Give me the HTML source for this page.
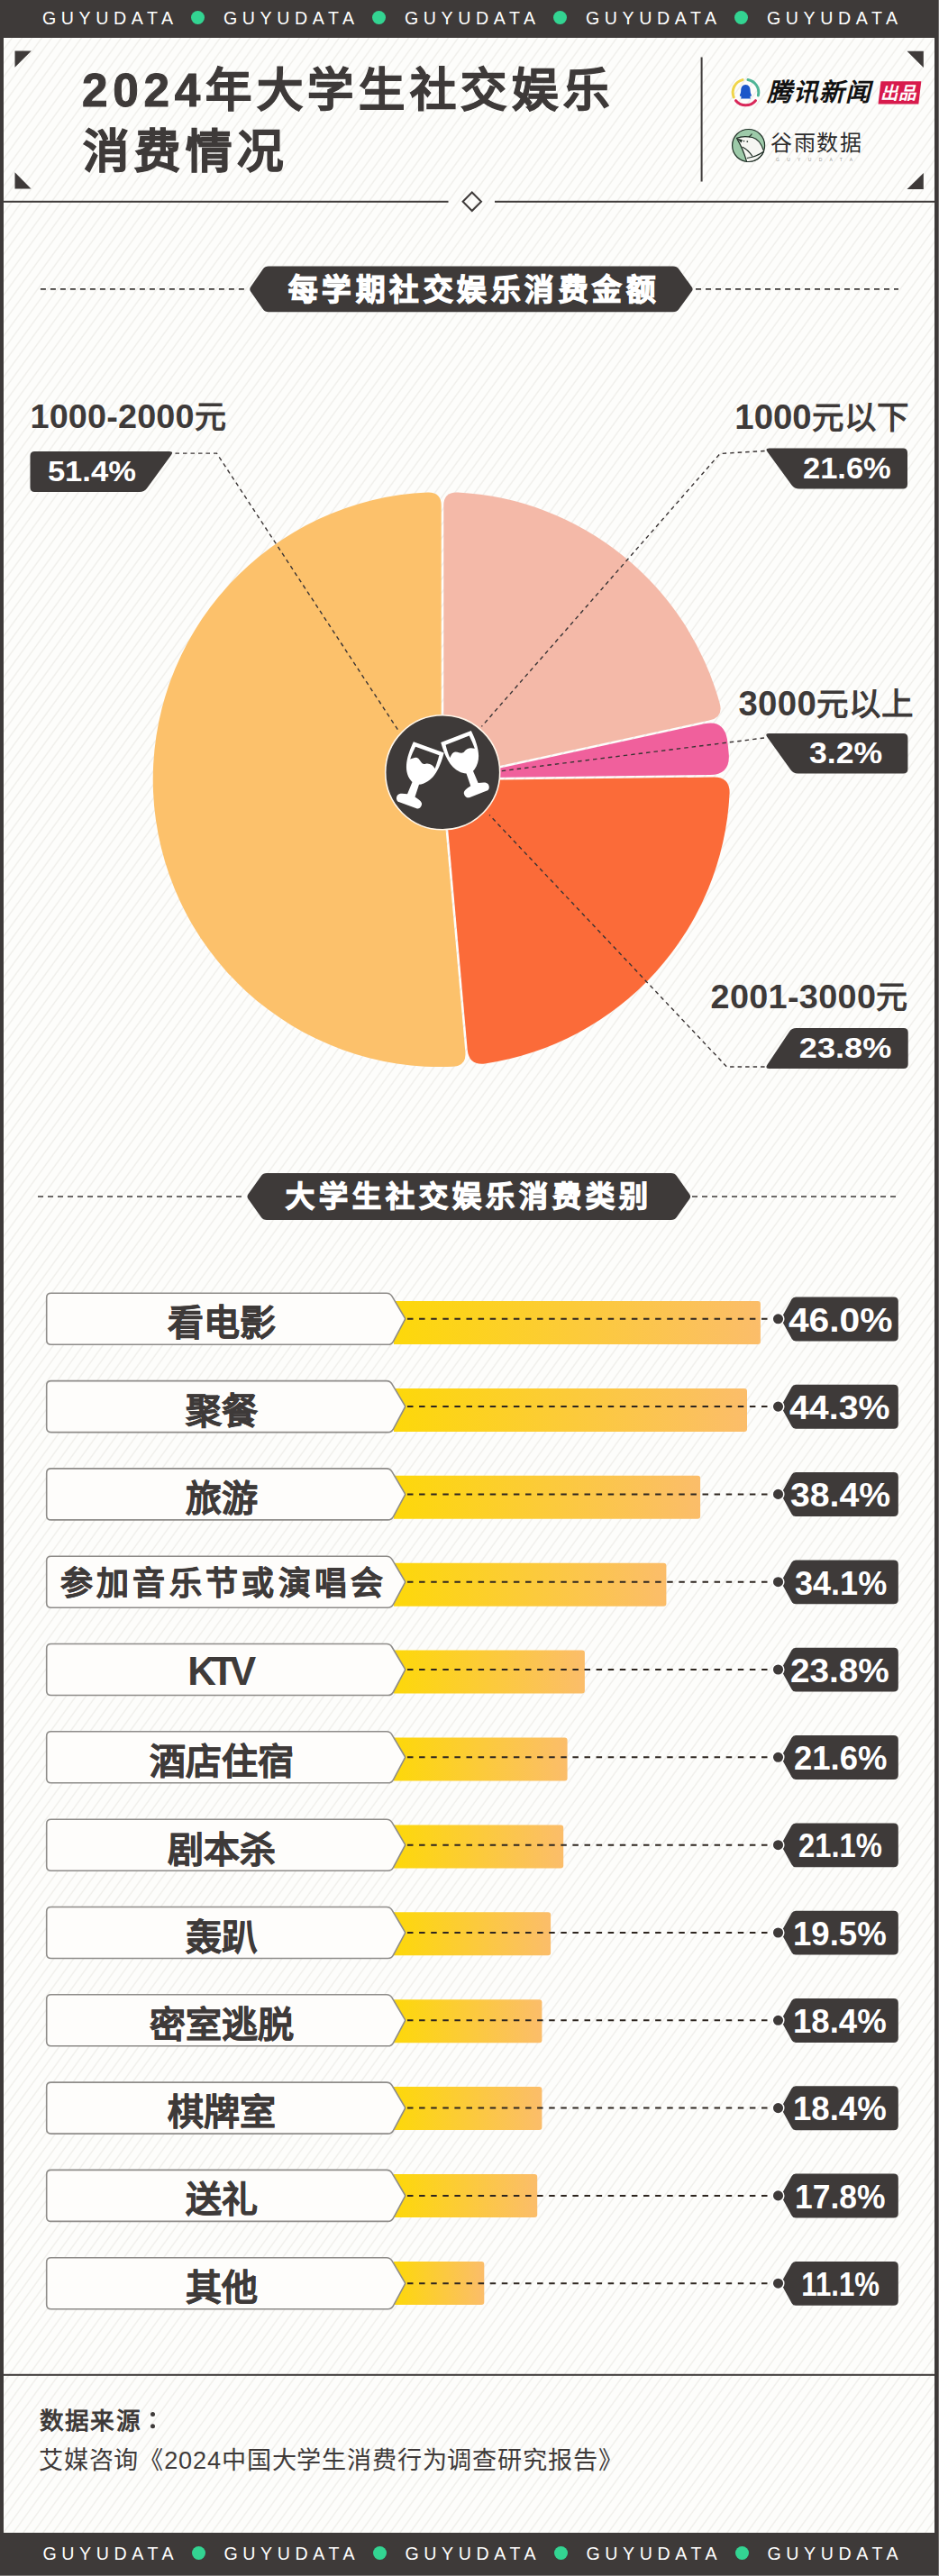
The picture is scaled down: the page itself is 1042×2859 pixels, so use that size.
<!DOCTYPE html>
<html lang="zh-CN"><head><meta charset="utf-8"><style>
html,body{margin:0;padding:0}
body{width:1042px;height:2859px;position:relative;overflow:hidden;background:#3e3a39;font-family:'Liberation Sans',sans-serif}
.panel{position:absolute;left:4px;top:42px;width:1033px;height:2769px;background-color:#fdfdfb;
background-image:repeating-linear-gradient(126deg,#fdfdfb 0px,#fdfdfb 6.3px,#f0efeb 7.5px,#f0efeb 7.8px,#fdfdfb 8.9px)}
.rb{position:absolute;left:1041px;top:0;width:1px;height:2859px;background:#6d6a69}
.ov{position:absolute;left:0;top:0}
.t{position:absolute;white-space:nowrap}
.g{position:absolute;font-size:19.6px;line-height:20px;letter-spacing:5.6px;color:#fff;white-space:nowrap;font-family:'Liberation Sans',sans-serif}
.dot{position:absolute;width:15px;height:15px;border-radius:50%;background:#33d492}
</style></head><body>
<div class="panel"></div>
<div class="rb"></div><div style="position:absolute;left:0;top:2857.5px;width:1042px;height:1.5px;background:#7d7978"></div>
<svg class="ov" width="1042" height="2859" viewBox="0 0 1042 2859"><polygon points="16.5,56.6 34.8,56.6 16.5,74.8" fill="#3e3a39"/>
<polygon points="1006.5,56.7 1024.8,56.7 1024.8,75" fill="#3e3a39"/>
<polygon points="16.5,191.2 34.5,209.4 16.5,209.4" fill="#3e3a39"/>
<polygon points="1024.8,192 1024.8,210 1006.5,210" fill="#3e3a39"/>
<rect x="777.6" y="63.5" width="2" height="138" fill="#3e3a39"/>
<rect x="4" y="222.8" width="493.5" height="2" fill="#3e3a39"/>
<rect x="549" y="222.8" width="488" height="2" fill="#3e3a39"/>
<polygon points="523.8,213.5 534,223.8 523.8,234 513.6,223.8" fill="none" stroke="#3e3a39" stroke-width="2"/>
<path d="M278.1,323.4 Q276.4,320.9 278.1,318.4 L291.7,298.8 Q294.0,295.5 298.0,295.5 L747.0,295.5 Q751.0,295.5 753.4,298.7 L767.7,318.5 Q769.5,320.9 767.7,323.3 L753.4,343.1 Q751.0,346.3 747.0,346.3 L298.0,346.3 Q294.0,346.3 291.7,343.0 Z" fill="#3e3a39"/>
<line x1="44.9" y1="320.9" x2="274" y2="320.9" stroke="#3e3a39" stroke-width="1.6" stroke-dasharray="6 5"/>
<line x1="772" y1="320.9" x2="997" y2="320.9" stroke="#3e3a39" stroke-width="1.6" stroke-dasharray="6 5"/>
<path d="M275.3,1330.4 Q273.6,1328.0 275.3,1325.6 L289.7,1305.3 Q292.0,1302.0 296.0,1302.0 L744.7,1302.0 Q748.7,1302.0 751.0,1305.3 L765.3,1325.5 Q767.0,1328.0 765.3,1330.5 L751.0,1350.7 Q748.7,1354.0 744.7,1354.0 L296.0,1354.0 Q292.0,1354.0 289.7,1350.7 Z" fill="#3e3a39"/>
<line x1="42" y1="1328.0" x2="272" y2="1328.0" stroke="#3e3a39" stroke-width="1.6" stroke-dasharray="6 5"/>
<line x1="768" y1="1328.0" x2="995" y2="1328.0" stroke="#3e3a39" stroke-width="1.6" stroke-dasharray="6 5"/>
<path d="M492.3,835.0 L492.3,561.0 Q492.3,546.0 507.3,546.4 A319,319 0 0 1 798.9,781.5 Q802.5,796.1 787.8,799.3 L520.0,857.4 Z" fill="#f4b9a8"/>
<path d="M520.6,859.9 L781.5,803.3 Q803.0,798.6 806.9,820.3 A319,319 0 0 1 808.8,837.7 Q810.0,859.7 788.0,860.0 L521.0,863.3 Z" fill="#f0609c"/>
<path d="M521.0,865.9 L792.0,862.5 Q810.0,862.3 809.6,880.3 A319,319 0 0 1 538.2,1180.5 Q520.3,1182.7 518.7,1164.7 L494.9,894.8 Z" fill="#fb6b39"/>
<path d="M492.3,895.0 L516.4,1167.9 Q517.7,1182.9 502.8,1183.8 A319,319 0 0 1 474.7,546.4 Q489.7,546.0 489.7,561.0 L489.7,835.0 Z" fill="#fcc16b"/>
<polyline points="194.5,503.1 240.5,503.1 441.5,810" fill="none" stroke="#3a3434" stroke-width="1.4" stroke-dasharray="4.5 4"/>
<polyline points="848.6,500.5 799,503.5 534.4,806.4" fill="none" stroke="#3a3434" stroke-width="1.4" stroke-dasharray="4.5 4"/>
<polyline points="848,819 555.7,855.8" fill="none" stroke="#3a3434" stroke-width="1.4" stroke-dasharray="4.5 4"/>
<polyline points="848.6,1184 806.5,1184 543,904.4" fill="none" stroke="#3a3434" stroke-width="1.4" stroke-dasharray="4.5 4"/>
<path d="M33.5,506.0 Q33.5,501.0 38.5,501.0 L188.0,501.0 Q193.0,501.0 190.0,505.0 L163.0,542.0 Q160.0,546.0 155.0,546.0 L38.5,546.0 Q33.5,546.0 33.5,541.0 Z" fill="#3e3a39"/>
<path d="M851.6,501.5 Q848.6,497.5 853.6,497.5 L1002.0,497.5 Q1007.0,497.5 1007.0,502.5 L1007.0,537.5 Q1007.0,542.5 1002.0,542.5 L886.6,542.5 Q881.6,542.5 878.6,538.5 Z" fill="#3e3a39"/>
<path d="M851.3,818.1 Q848.4,814.0 853.4,814.0 L1002.4,814.0 Q1007.4,814.0 1007.4,819.0 L1007.4,853.6 Q1007.4,858.6 1002.4,858.6 L885.4,858.6 Q880.4,858.6 877.5,854.5 Z" fill="#3e3a39"/>
<path d="M875.8,1145.2 Q878.6,1141.0 883.6,1141.0 L1002.7,1141.0 Q1007.7,1141.0 1007.7,1146.0 L1007.7,1181.0 Q1007.7,1186.0 1002.7,1186.0 L853.6,1186.0 Q848.6,1186.0 851.4,1181.8 Z" fill="#3e3a39"/>
<circle cx="491.2" cy="857.3" r="63.5" fill="#3e3a39" stroke="#fff6ea" stroke-width="1.6"/>
<g fill="#fff" fill-rule="evenodd"><path transform="translate(475.6,829.8) rotate(20)" d="M-18,-0.5 L18,-0.5 C19.5,16 18.5,33 6,41 L4,42 L4.5,56.5 C9,57.5 14,58.5 14.5,62 C15,66 12.5,68 10.5,68 L-10.5,68 C-12.5,68 -15,66 -14.5,62 C-14,58.5 -9,57.5 -4.5,56.5 L-4,42 L-6,41 C-18.5,33 -19.5,16 -18,-0.5 Z M-14,4 L14,4 C14.5,10 14.7,15 14.6,19.5 C11,16.5 6.5,15.5 2.5,18.5 C-1.5,21 -5,14 -9,15 C-11,15.5 -13,17.5 -14.8,19 C-15,14 -14.6,9 -14,4 Z"/><path transform="translate(506.2,817.9) rotate(-21)" d="M-18,-0.5 L18,-0.5 C19.5,16 18.5,33 6,41 L4,42 L4.5,56.5 C9,57.5 14,58.5 14.5,62 C15,66 12.5,68 10.5,68 L-10.5,68 C-12.5,68 -15,66 -14.5,62 C-14,58.5 -9,57.5 -4.5,56.5 L-4,42 L-6,41 C-18.5,33 -19.5,16 -18,-0.5 Z M-14,4 L14,4 C14.5,10 14.7,15 14.6,19.5 C11,16.5 6.5,15.5 2.5,18.5 C-1.5,21 -5,14 -9,15 C-11,15.5 -13,17.5 -14.8,19 C-15,14 -14.6,9 -14,4 Z"/></g>
<linearGradient id="g0" x1="0" x2="1" y1="0" y2="0"><stop offset="0" stop-color="#fdd80a"/><stop offset="1" stop-color="#fbbd6a"/></linearGradient>
<path d="M437.0,1444.0 Q437.0,1444.0 437.0,1444.0 L840.9,1444.0 Q843.9,1444.0 843.9,1447.0 L843.9,1489.0 Q843.9,1492.0 840.9,1492.0 L437.0,1492.0 Q437.0,1492.0 437.0,1492.0 Z" fill="url(#g0)"/>
<path d="M51.7,1440.3 Q51.7,1435.3 56.7,1435.3 L429.0,1435.3 Q433.0,1435.3 435.0,1438.7 L449.3,1462.9 Q449.8,1463.8 449.3,1464.7 L436.4,1488.8 Q434.5,1492.3 430.5,1492.3 L56.7,1492.3 Q51.7,1492.3 51.7,1487.3 Z" fill="#fefdfb" stroke="#8e8c89" stroke-width="1.6"/>
<line x1="452" y1="1463.8" x2="860" y2="1463.8" stroke="#2e2620" stroke-width="2" stroke-dasharray="6.5 6.6"/>
<path d="M867.0,1464.7 Q866.5,1463.8 867.0,1462.9 L878.5,1442.1 Q880.0,1439.5 883.0,1439.5 L991.8,1439.5 Q996.8,1439.5 996.8,1444.5 L996.8,1483.4 Q996.8,1488.4 991.8,1488.4 L883.0,1488.4 Q880.0,1488.4 878.6,1485.8 Z" fill="#3e3a39"/>
<circle cx="863.5" cy="1463.8" r="6.3" fill="#3e3a39" stroke="#fff" stroke-width="1.5"/>
<linearGradient id="g1" x1="0" x2="1" y1="0" y2="0"><stop offset="0" stop-color="#fdd80a"/><stop offset="1" stop-color="#fbbd6a"/></linearGradient>
<path d="M437.0,1540.9 Q437.0,1540.9 437.0,1540.9 L826.0,1540.9 Q829.0,1540.9 829.0,1543.9 L829.0,1585.9 Q829.0,1588.9 826.0,1588.9 L437.0,1588.9 Q437.0,1588.9 437.0,1588.9 Z" fill="url(#g1)"/>
<path d="M51.7,1537.6 Q51.7,1532.6 56.7,1532.6 L429.0,1532.6 Q433.0,1532.6 435.0,1536.1 L449.3,1560.2 Q449.8,1561.1 449.3,1562.0 L436.4,1586.1 Q434.5,1589.6 430.5,1589.6 L56.7,1589.6 Q51.7,1589.6 51.7,1584.6 Z" fill="#fefdfb" stroke="#8e8c89" stroke-width="1.6"/>
<line x1="452" y1="1561.1" x2="860" y2="1561.1" stroke="#2e2620" stroke-width="2" stroke-dasharray="6.5 6.6"/>
<path d="M867.0,1562.0 Q866.5,1561.1 867.0,1560.2 L878.5,1539.4 Q880.0,1536.8 883.0,1536.8 L991.8,1536.8 Q996.8,1536.8 996.8,1541.8 L996.8,1580.7 Q996.8,1585.7 991.8,1585.7 L883.0,1585.7 Q880.0,1585.7 878.6,1583.1 Z" fill="#3e3a39"/>
<circle cx="863.5" cy="1561.1" r="6.3" fill="#3e3a39" stroke="#fff" stroke-width="1.5"/>
<linearGradient id="g2" x1="0" x2="1" y1="0" y2="0"><stop offset="0" stop-color="#fdd80a"/><stop offset="1" stop-color="#fbbd6a"/></linearGradient>
<path d="M437.0,1637.8 Q437.0,1637.8 437.0,1637.8 L774.1,1637.8 Q777.1,1637.8 777.1,1640.8 L777.1,1682.8 Q777.1,1685.8 774.1,1685.8 L437.0,1685.8 Q437.0,1685.8 437.0,1685.8 Z" fill="url(#g2)"/>
<path d="M51.7,1634.9 Q51.7,1629.9 56.7,1629.9 L429.0,1629.9 Q433.0,1629.9 435.0,1633.4 L449.3,1657.6 Q449.8,1658.4 449.3,1659.3 L436.4,1683.4 Q434.5,1686.9 430.5,1686.9 L56.7,1686.9 Q51.7,1686.9 51.7,1681.9 Z" fill="#fefdfb" stroke="#8e8c89" stroke-width="1.6"/>
<line x1="452" y1="1658.4" x2="860" y2="1658.4" stroke="#2e2620" stroke-width="2" stroke-dasharray="6.5 6.6"/>
<path d="M867.0,1659.3 Q866.5,1658.4 867.0,1657.5 L878.5,1636.7 Q880.0,1634.1 883.0,1634.1 L991.8,1634.1 Q996.8,1634.1 996.8,1639.1 L996.8,1678.0 Q996.8,1683.0 991.8,1683.0 L883.0,1683.0 Q880.0,1683.0 878.6,1680.4 Z" fill="#3e3a39"/>
<circle cx="863.5" cy="1658.4" r="6.3" fill="#3e3a39" stroke="#fff" stroke-width="1.5"/>
<linearGradient id="g3" x1="0" x2="1" y1="0" y2="0"><stop offset="0" stop-color="#fdd80a"/><stop offset="1" stop-color="#fbbd6a"/></linearGradient>
<path d="M437.0,1734.7 Q437.0,1734.7 437.0,1734.7 L736.4,1734.7 Q739.4,1734.7 739.4,1737.7 L739.4,1779.7 Q739.4,1782.7 736.4,1782.7 L437.0,1782.7 Q437.0,1782.7 437.0,1782.7 Z" fill="url(#g3)"/>
<path d="M51.7,1732.2 Q51.7,1727.2 56.7,1727.2 L429.0,1727.2 Q433.0,1727.2 435.0,1730.7 L449.3,1754.9 Q449.8,1755.7 449.3,1756.6 L436.4,1780.7 Q434.5,1784.2 430.5,1784.2 L56.7,1784.2 Q51.7,1784.2 51.7,1779.2 Z" fill="#fefdfb" stroke="#8e8c89" stroke-width="1.6"/>
<line x1="452" y1="1755.7" x2="860" y2="1755.7" stroke="#2e2620" stroke-width="2" stroke-dasharray="6.5 6.6"/>
<path d="M867.0,1756.6 Q866.5,1755.7 867.0,1754.9 L878.5,1734.1 Q880.0,1731.4 883.0,1731.4 L991.8,1731.4 Q996.8,1731.4 996.8,1736.4 L996.8,1775.3 Q996.8,1780.3 991.8,1780.3 L883.0,1780.3 Q880.0,1780.3 878.6,1777.7 Z" fill="#3e3a39"/>
<circle cx="863.5" cy="1755.7" r="6.3" fill="#3e3a39" stroke="#fff" stroke-width="1.5"/>
<linearGradient id="g4" x1="0" x2="1" y1="0" y2="0"><stop offset="0" stop-color="#fdd80a"/><stop offset="1" stop-color="#fbbd6a"/></linearGradient>
<path d="M437.0,1831.6 Q437.0,1831.6 437.0,1831.6 L645.9,1831.6 Q648.9,1831.6 648.9,1834.6 L648.9,1876.6 Q648.9,1879.6 645.9,1879.6 L437.0,1879.6 Q437.0,1879.6 437.0,1879.6 Z" fill="url(#g4)"/>
<path d="M51.7,1829.5 Q51.7,1824.5 56.7,1824.5 L429.0,1824.5 Q433.0,1824.5 435.0,1828.0 L449.3,1852.2 Q449.8,1853.0 449.3,1853.9 L436.4,1878.0 Q434.5,1881.5 430.5,1881.5 L56.7,1881.5 Q51.7,1881.5 51.7,1876.5 Z" fill="#fefdfb" stroke="#8e8c89" stroke-width="1.6"/>
<line x1="452" y1="1853.0" x2="860" y2="1853.0" stroke="#2e2620" stroke-width="2" stroke-dasharray="6.5 6.6"/>
<path d="M867.0,1853.9 Q866.5,1853.0 867.0,1852.2 L878.5,1831.4 Q880.0,1828.7 883.0,1828.7 L991.8,1828.7 Q996.8,1828.7 996.8,1833.7 L996.8,1872.6 Q996.8,1877.6 991.8,1877.6 L883.0,1877.6 Q880.0,1877.6 878.6,1875.0 Z" fill="#3e3a39"/>
<circle cx="863.5" cy="1853.0" r="6.3" fill="#3e3a39" stroke="#fff" stroke-width="1.5"/>
<linearGradient id="g5" x1="0" x2="1" y1="0" y2="0"><stop offset="0" stop-color="#fdd80a"/><stop offset="1" stop-color="#fbbd6a"/></linearGradient>
<path d="M437.0,1928.5 Q437.0,1928.5 437.0,1928.5 L626.6,1928.5 Q629.6,1928.5 629.6,1931.5 L629.6,1973.5 Q629.6,1976.5 626.6,1976.5 L437.0,1976.5 Q437.0,1976.5 437.0,1976.5 Z" fill="url(#g5)"/>
<path d="M51.7,1926.8 Q51.7,1921.8 56.7,1921.8 L429.0,1921.8 Q433.0,1921.8 435.0,1925.3 L449.3,1949.5 Q449.8,1950.3 449.3,1951.2 L436.4,1975.3 Q434.5,1978.8 430.5,1978.8 L56.7,1978.8 Q51.7,1978.8 51.7,1973.8 Z" fill="#fefdfb" stroke="#8e8c89" stroke-width="1.6"/>
<line x1="452" y1="1950.3" x2="860" y2="1950.3" stroke="#2e2620" stroke-width="2" stroke-dasharray="6.5 6.6"/>
<path d="M867.0,1951.2 Q866.5,1950.3 867.0,1949.5 L878.5,1928.7 Q880.0,1926.0 883.0,1926.0 L991.8,1926.0 Q996.8,1926.0 996.8,1931.0 L996.8,1969.9 Q996.8,1974.9 991.8,1974.9 L883.0,1974.9 Q880.0,1974.9 878.6,1972.3 Z" fill="#3e3a39"/>
<circle cx="863.5" cy="1950.3" r="6.3" fill="#3e3a39" stroke="#fff" stroke-width="1.5"/>
<linearGradient id="g6" x1="0" x2="1" y1="0" y2="0"><stop offset="0" stop-color="#fdd80a"/><stop offset="1" stop-color="#fbbd6a"/></linearGradient>
<path d="M437.0,2025.4 Q437.0,2025.4 437.0,2025.4 L622.2,2025.4 Q625.2,2025.4 625.2,2028.4 L625.2,2070.4 Q625.2,2073.4 622.2,2073.4 L437.0,2073.4 Q437.0,2073.4 437.0,2073.4 Z" fill="url(#g6)"/>
<path d="M51.7,2024.2 Q51.7,2019.2 56.7,2019.2 L429.0,2019.2 Q433.0,2019.2 435.0,2022.6 L449.3,2046.8 Q449.8,2047.7 449.3,2048.5 L436.4,2072.6 Q434.5,2076.2 430.5,2076.2 L56.7,2076.2 Q51.7,2076.2 51.7,2071.2 Z" fill="#fefdfb" stroke="#8e8c89" stroke-width="1.6"/>
<line x1="452" y1="2047.7" x2="860" y2="2047.7" stroke="#2e2620" stroke-width="2" stroke-dasharray="6.5 6.6"/>
<path d="M867.0,2048.5 Q866.5,2047.7 867.0,2046.8 L878.5,2026.0 Q880.0,2023.4 883.0,2023.4 L991.8,2023.4 Q996.8,2023.4 996.8,2028.4 L996.8,2067.3 Q996.8,2072.3 991.8,2072.3 L883.0,2072.3 Q880.0,2072.3 878.6,2069.6 Z" fill="#3e3a39"/>
<circle cx="863.5" cy="2047.7" r="6.3" fill="#3e3a39" stroke="#fff" stroke-width="1.5"/>
<linearGradient id="g7" x1="0" x2="1" y1="0" y2="0"><stop offset="0" stop-color="#fdd80a"/><stop offset="1" stop-color="#fbbd6a"/></linearGradient>
<path d="M437.0,2122.3 Q437.0,2122.3 437.0,2122.3 L608.1,2122.3 Q611.1,2122.3 611.1,2125.3 L611.1,2167.3 Q611.1,2170.3 608.1,2170.3 L437.0,2170.3 Q437.0,2170.3 437.0,2170.3 Z" fill="url(#g7)"/>
<path d="M51.7,2121.5 Q51.7,2116.5 56.7,2116.5 L429.0,2116.5 Q433.0,2116.5 435.0,2119.9 L449.3,2144.1 Q449.8,2145.0 449.3,2145.9 L436.4,2169.9 Q434.5,2173.5 430.5,2173.5 L56.7,2173.5 Q51.7,2173.5 51.7,2168.5 Z" fill="#fefdfb" stroke="#8e8c89" stroke-width="1.6"/>
<line x1="452" y1="2145.0" x2="860" y2="2145.0" stroke="#2e2620" stroke-width="2" stroke-dasharray="6.5 6.6"/>
<path d="M867.0,2145.8 Q866.5,2145.0 867.0,2144.1 L878.5,2123.3 Q880.0,2120.7 883.0,2120.7 L991.8,2120.7 Q996.8,2120.7 996.8,2125.7 L996.8,2164.6 Q996.8,2169.6 991.8,2169.6 L883.0,2169.6 Q880.0,2169.6 878.6,2166.9 Z" fill="#3e3a39"/>
<circle cx="863.5" cy="2145.0" r="6.3" fill="#3e3a39" stroke="#fff" stroke-width="1.5"/>
<linearGradient id="g8" x1="0" x2="1" y1="0" y2="0"><stop offset="0" stop-color="#fdd80a"/><stop offset="1" stop-color="#fbbd6a"/></linearGradient>
<path d="M437.0,2219.2 Q437.0,2219.2 437.0,2219.2 L598.4,2219.2 Q601.4,2219.2 601.4,2222.2 L601.4,2264.2 Q601.4,2267.2 598.4,2267.2 L437.0,2267.2 Q437.0,2267.2 437.0,2267.2 Z" fill="url(#g8)"/>
<path d="M51.7,2218.8 Q51.7,2213.8 56.7,2213.8 L429.0,2213.8 Q433.0,2213.8 435.0,2217.2 L449.3,2241.4 Q449.8,2242.3 449.3,2243.2 L436.4,2267.3 Q434.5,2270.8 430.5,2270.8 L56.7,2270.8 Q51.7,2270.8 51.7,2265.8 Z" fill="#fefdfb" stroke="#8e8c89" stroke-width="1.6"/>
<line x1="452" y1="2242.3" x2="860" y2="2242.3" stroke="#2e2620" stroke-width="2" stroke-dasharray="6.5 6.6"/>
<path d="M867.0,2243.2 Q866.5,2242.3 867.0,2241.4 L878.5,2220.6 Q880.0,2218.0 883.0,2218.0 L991.8,2218.0 Q996.8,2218.0 996.8,2223.0 L996.8,2261.9 Q996.8,2266.9 991.8,2266.9 L883.0,2266.9 Q880.0,2266.9 878.6,2264.2 Z" fill="#3e3a39"/>
<circle cx="863.5" cy="2242.3" r="6.3" fill="#3e3a39" stroke="#fff" stroke-width="1.5"/>
<linearGradient id="g9" x1="0" x2="1" y1="0" y2="0"><stop offset="0" stop-color="#fdd80a"/><stop offset="1" stop-color="#fbbd6a"/></linearGradient>
<path d="M437.0,2316.1 Q437.0,2316.1 437.0,2316.1 L598.4,2316.1 Q601.4,2316.1 601.4,2319.1 L601.4,2361.1 Q601.4,2364.1 598.4,2364.1 L437.0,2364.1 Q437.0,2364.1 437.0,2364.1 Z" fill="url(#g9)"/>
<path d="M51.7,2316.1 Q51.7,2311.1 56.7,2311.1 L429.0,2311.1 Q433.0,2311.1 435.0,2314.5 L449.3,2338.7 Q449.8,2339.6 449.3,2340.5 L436.4,2364.6 Q434.5,2368.1 430.5,2368.1 L56.7,2368.1 Q51.7,2368.1 51.7,2363.1 Z" fill="#fefdfb" stroke="#8e8c89" stroke-width="1.6"/>
<line x1="452" y1="2339.6" x2="860" y2="2339.6" stroke="#2e2620" stroke-width="2" stroke-dasharray="6.5 6.6"/>
<path d="M867.0,2340.5 Q866.5,2339.6 867.0,2338.7 L878.5,2317.9 Q880.0,2315.3 883.0,2315.3 L991.8,2315.3 Q996.8,2315.3 996.8,2320.3 L996.8,2359.2 Q996.8,2364.2 991.8,2364.2 L883.0,2364.2 Q880.0,2364.2 878.6,2361.6 Z" fill="#3e3a39"/>
<circle cx="863.5" cy="2339.6" r="6.3" fill="#3e3a39" stroke="#fff" stroke-width="1.5"/>
<linearGradient id="g10" x1="0" x2="1" y1="0" y2="0"><stop offset="0" stop-color="#fdd80a"/><stop offset="1" stop-color="#fbbd6a"/></linearGradient>
<path d="M437.0,2413.0 Q437.0,2413.0 437.0,2413.0 L593.2,2413.0 Q596.2,2413.0 596.2,2416.0 L596.2,2458.0 Q596.2,2461.0 593.2,2461.0 L437.0,2461.0 Q437.0,2461.0 437.0,2461.0 Z" fill="url(#g10)"/>
<path d="M51.7,2413.4 Q51.7,2408.4 56.7,2408.4 L429.0,2408.4 Q433.0,2408.4 435.0,2411.8 L449.3,2436.0 Q449.8,2436.9 449.3,2437.8 L436.4,2461.9 Q434.5,2465.4 430.5,2465.4 L56.7,2465.4 Q51.7,2465.4 51.7,2460.4 Z" fill="#fefdfb" stroke="#8e8c89" stroke-width="1.6"/>
<line x1="452" y1="2436.9" x2="860" y2="2436.9" stroke="#2e2620" stroke-width="2" stroke-dasharray="6.5 6.6"/>
<path d="M867.0,2437.8 Q866.5,2436.9 867.0,2436.0 L878.5,2415.2 Q880.0,2412.6 883.0,2412.6 L991.8,2412.6 Q996.8,2412.6 996.8,2417.6 L996.8,2456.5 Q996.8,2461.5 991.8,2461.5 L883.0,2461.5 Q880.0,2461.5 878.6,2458.9 Z" fill="#3e3a39"/>
<circle cx="863.5" cy="2436.9" r="6.3" fill="#3e3a39" stroke="#fff" stroke-width="1.5"/>
<linearGradient id="g11" x1="0" x2="1" y1="0" y2="0"><stop offset="0" stop-color="#fdd80a"/><stop offset="1" stop-color="#fbbd6a"/></linearGradient>
<path d="M437.0,2509.9 Q437.0,2509.9 437.0,2509.9 L534.3,2509.9 Q537.3,2509.9 537.3,2512.9 L537.3,2554.9 Q537.3,2557.9 534.3,2557.9 L437.0,2557.9 Q437.0,2557.9 437.0,2557.9 Z" fill="url(#g11)"/>
<path d="M51.7,2510.7 Q51.7,2505.7 56.7,2505.7 L429.0,2505.7 Q433.0,2505.7 435.0,2509.2 L449.3,2533.3 Q449.8,2534.2 449.3,2535.1 L436.4,2559.2 Q434.5,2562.7 430.5,2562.7 L56.7,2562.7 Q51.7,2562.7 51.7,2557.7 Z" fill="#fefdfb" stroke="#8e8c89" stroke-width="1.6"/>
<line x1="452" y1="2534.2" x2="860" y2="2534.2" stroke="#2e2620" stroke-width="2" stroke-dasharray="6.5 6.6"/>
<path d="M867.0,2535.1 Q866.5,2534.2 867.0,2533.3 L878.5,2512.5 Q880.0,2509.9 883.0,2509.9 L991.8,2509.9 Q996.8,2509.9 996.8,2514.9 L996.8,2553.8 Q996.8,2558.8 991.8,2558.8 L883.0,2558.8 Q880.0,2558.8 878.6,2556.2 Z" fill="#3e3a39"/>
<circle cx="863.5" cy="2534.2" r="6.3" fill="#3e3a39" stroke="#fff" stroke-width="1.5"/>
<circle cx="169.5" cy="2679.5" r="2.5" fill="#3e3a39"/><circle cx="169.5" cy="2692.8" r="2.5" fill="#3e3a39"/>
<rect x="4" y="2634.8" width="1033" height="2" fill="#3e3a39"/>
<g fill="none" stroke-width="3" stroke-linecap="round"><path d="M814.24,107.86 A14.3,14.3 0 0 1 824.04,88.62" stroke="#f0d54a"/><path d="M829.98,88.42 A14.3,14.3 0 0 1 841.38,105.96" stroke="#4fb596"/><path d="M838.45,111.69 A14.3,14.3 0 0 1 816.55,111.69" stroke="#d9285a"/></g>
<path d="M827.4,94 C831,94 832.6,97 832.6,100.5 C832.6,103 833.5,104.5 834,106 C833.5,107 833,107 832.6,106.5 L832.5,108.5 L833,109.5 L822,109.5 L822.5,108.5 L822.3,106.5 C821.8,107 821.3,107 820.8,106 C821.3,104.5 822.2,103 822.2,100.5 C822.2,97 823.8,94 827.4,94 Z" fill="#1a56c9"/>
<path d="M977.5,90.2 L1022.3,90.2 L1019.3,115.6 L974.5,115.6 Z" fill="#d81a4c"/>
<g stroke="#1f2e25" stroke-width="1.2" fill="none">
<circle cx="830.6" cy="161.5" r="18" fill="#9dcaa9"/>
<path d="M817.6,153.4 C823,151 830,151.5 835,152.5 C841,154 845,160 847.6,167.5 A18,18 0 0 1 828.6,179.4 C826,170 822,161 817.6,153.4 Z" fill="#f6f6f2"/>
<path d="M831,152 C832.5,151 833.5,150 834.5,148.5"/>
<path d="M823.5,163 C828,165 832,169 835,173.5"/>
<path d="M828.8,175.5 C836,174.5 842,172 847,168.5"/>
</g>
<path d="M817.6,153.4 L824,155.3 L822.5,158.5 Z" fill="#1f2e25"/>
<circle cx="829.3" cy="157.1" r="0.9" fill="#1f2e25"/><circle cx="825.5" cy="156.6" r="0.8" fill="#1f2e25"/>
<text x="861" y="179" font-family="Liberation Sans" font-size="5" letter-spacing="8.3" fill="#9a9a96">GUYUDATA</text></svg>
<div class="t" style="left:91.0px;top:74.7px;font-size:51.34px;line-height:51.34px;letter-spacing:5.70px;color:#3e3a39;font-weight:700;font-family:'Liberation Sans',sans-serif;font-style:normal;-webkit-text-stroke:1.0px #3e3a39">2024年大学生社交娱乐</div><div class="t" style="left:91.5px;top:143.4px;font-size:51.46px;line-height:51.46px;letter-spacing:6.27px;color:#3e3a39;font-weight:700;font-family:'Liberation Sans',sans-serif;font-style:normal;-webkit-text-stroke:1.0px #3e3a39">消费情况</div><div class="t" style="left:319.5px;top:306.1px;font-size:32.55px;line-height:32.55px;letter-spacing:4.51px;color:#fff;font-weight:700;font-family:'Liberation Sans',sans-serif;font-style:normal;-webkit-text-stroke:1.3px #fff">每学期社交娱乐消费金额</div><div class="t" style="left:317.0px;top:1312.1px;font-size:32.04px;line-height:32.04px;letter-spacing:5.04px;color:#fff;font-weight:700;font-family:'Liberation Sans',sans-serif;font-style:normal;-webkit-text-stroke:1.3px #fff">大学生社交娱乐消费类别</div><div class="t" style="left:33.5px;top:445.4px;font-size:35.00px;line-height:35.00px;letter-spacing:0.00px;color:#3e3a39;font-weight:700;font-family:'Liberation Sans',sans-serif;font-style:normal"><span style="font-size:108%;letter-spacing:0.16px">1000-2000</span>元</div><div class="t" style="left:53.0px;top:508.2px;font-size:31.83px;line-height:31.83px;letter-spacing:0.00px;color:#fff;font-weight:700;font-family:'Liberation Sans',sans-serif;font-style:normal;transform-origin:1.0px 0;transform:scaleX(1.085)">51.4%</div><div class="t" style="left:815.3px;top:444.7px;font-size:35.50px;line-height:35.50px;letter-spacing:0.00px;color:#3e3a39;font-weight:700;font-family:'Liberation Sans',sans-serif;font-style:normal"><span style="font-size:108%;letter-spacing:0.03px">1000</span>元以下</div><div class="t" style="left:891.0px;top:503.7px;font-size:32.54px;line-height:32.54px;letter-spacing:0.00px;color:#fff;font-weight:700;font-family:'Liberation Sans',sans-serif;font-style:normal;transform-origin:1.0px 0;transform:scaleX(1.061)">21.6%</div><div class="t" style="left:819.4px;top:762.8px;font-size:35.50px;line-height:35.50px;letter-spacing:0.00px;color:#3e3a39;font-weight:700;font-family:'Liberation Sans',sans-serif;font-style:normal"><span style="font-size:108%;letter-spacing:0.38px">3000</span>元以上</div><div class="t" style="left:897.9px;top:818.7px;font-size:33.38px;line-height:33.38px;letter-spacing:0.00px;color:#fff;font-weight:700;font-family:'Liberation Sans',sans-serif;font-style:normal;transform-origin:0.7px 0;transform:scaleX(1.067)">3.2%</div><div class="t" style="left:788.6px;top:1089.3px;font-size:35.00px;line-height:35.00px;letter-spacing:0.00px;color:#3e3a39;font-weight:700;font-family:'Liberation Sans',sans-serif;font-style:normal"><span style="font-size:108%;letter-spacing:0.32px">2001-3000</span>元</div><div class="t" style="left:886.6px;top:1148.2px;font-size:31.83px;line-height:31.83px;letter-spacing:0.00px;color:#fff;font-weight:700;font-family:'Liberation Sans',sans-serif;font-style:normal;transform-origin:1.0px 0;transform:scaleX(1.135)">23.8%</div><div class="t" style="left:185.8px;top:1448.2px;font-size:40.00px;line-height:40.00px;letter-spacing:0.00px;color:#3e3a39;font-weight:700;font-family:'Liberation Sans',sans-serif;font-style:normal;-webkit-text-stroke:0.5px #3e3a39">看电影</div><div class="t" style="left:874.8px;top:1447.5px;font-size:36.34px;line-height:36.34px;letter-spacing:0.00px;color:#fff;font-weight:700;font-family:'Liberation Sans',sans-serif;font-style:normal;transform-origin:0.4px 0;transform:scaleX(1.122)">46.0%</div><div class="t" style="left:205.8px;top:1545.6px;font-size:40.00px;line-height:40.00px;letter-spacing:0.00px;color:#3e3a39;font-weight:700;font-family:'Liberation Sans',sans-serif;font-style:normal;-webkit-text-stroke:0.5px #3e3a39">聚餐</div><div class="t" style="left:876.4px;top:1544.9px;font-size:36.34px;line-height:36.34px;letter-spacing:0.00px;color:#fff;font-weight:700;font-family:'Liberation Sans',sans-serif;font-style:normal;transform-origin:0.4px 0;transform:scaleX(1.083)">44.3%</div><div class="t" style="left:205.8px;top:1642.9px;font-size:40.00px;line-height:40.00px;letter-spacing:0.00px;color:#3e3a39;font-weight:700;font-family:'Liberation Sans',sans-serif;font-style:normal;-webkit-text-stroke:0.5px #3e3a39">旅游</div><div class="t" style="left:876.9px;top:1642.2px;font-size:36.34px;line-height:36.34px;letter-spacing:0.00px;color:#fff;font-weight:700;font-family:'Liberation Sans',sans-serif;font-style:normal;transform-origin:0.7px 0;transform:scaleX(1.079)">38.4%</div><div class="t" style="left:66.7px;top:1740.0px;font-size:36.02px;line-height:36.02px;letter-spacing:4.34px;color:#3e3a39;font-weight:700;font-family:'Liberation Sans',sans-serif;font-style:normal;-webkit-text-stroke:0.5px #3e3a39">参加音乐节或演唱会</div><div class="t" style="left:881.7px;top:1739.5px;font-size:36.34px;line-height:36.34px;letter-spacing:0.00px;color:#fff;font-weight:700;font-family:'Liberation Sans',sans-serif;font-style:normal;transform-origin:0.7px 0;transform:scaleX(0.992)">34.1%</div><div class="t" style="left:208.2px;top:1833.1px;font-size:43.77px;line-height:43.77px;letter-spacing:-5.72px;color:#3e3a39;font-weight:700;font-family:'Liberation Sans',sans-serif;font-style:normal">KTV</div><div class="t" style="left:876.5px;top:1836.8px;font-size:36.34px;line-height:36.34px;letter-spacing:0.00px;color:#fff;font-weight:700;font-family:'Liberation Sans',sans-serif;font-style:normal;transform-origin:1.1px 0;transform:scaleX(1.067)">23.8%</div><div class="t" style="left:166.4px;top:1935.2px;font-size:40.00px;line-height:40.00px;letter-spacing:0.00px;color:#3e3a39;font-weight:700;font-family:'Liberation Sans',sans-serif;font-style:normal;-webkit-text-stroke:0.5px #3e3a39">酒店住宿</div><div class="t" style="left:880.5px;top:1934.1px;font-size:36.34px;line-height:36.34px;letter-spacing:0.00px;color:#fff;font-weight:700;font-family:'Liberation Sans',sans-serif;font-style:normal;transform-origin:1.1px 0;transform:scaleX(1.004)">21.6%</div><div class="t" style="left:186.0px;top:2032.5px;font-size:40.00px;line-height:40.00px;letter-spacing:0.00px;color:#3e3a39;font-weight:700;font-family:'Liberation Sans',sans-serif;font-style:normal;-webkit-text-stroke:0.5px #3e3a39">剧本杀</div><div class="t" style="left:886.1px;top:2031.4px;font-size:36.34px;line-height:36.34px;letter-spacing:0.00px;color:#fff;font-weight:700;font-family:'Liberation Sans',sans-serif;font-style:normal;transform-origin:1.1px 0;transform:scaleX(0.901)">21.1%</div><div class="t" style="left:205.8px;top:2129.8px;font-size:40.00px;line-height:40.00px;letter-spacing:0.00px;color:#3e3a39;font-weight:700;font-family:'Liberation Sans',sans-serif;font-style:normal;-webkit-text-stroke:0.5px #3e3a39">轰趴</div><div class="t" style="left:880.2px;top:2128.7px;font-size:36.34px;line-height:36.34px;letter-spacing:0.00px;color:#fff;font-weight:700;font-family:'Liberation Sans',sans-serif;font-style:normal;transform-origin:2.2px 0;transform:scaleX(1.007)">19.5%</div><div class="t" style="left:165.8px;top:2227.1px;font-size:40.00px;line-height:40.00px;letter-spacing:0.00px;color:#3e3a39;font-weight:700;font-family:'Liberation Sans',sans-serif;font-style:normal;-webkit-text-stroke:0.5px #3e3a39">密室逃脱</div><div class="t" style="left:880.2px;top:2226.0px;font-size:36.34px;line-height:36.34px;letter-spacing:0.00px;color:#fff;font-weight:700;font-family:'Liberation Sans',sans-serif;font-style:normal;transform-origin:2.2px 0;transform:scaleX(1.007)">18.4%</div><div class="t" style="left:186.2px;top:2324.4px;font-size:40.00px;line-height:40.00px;letter-spacing:0.00px;color:#3e3a39;font-weight:700;font-family:'Liberation Sans',sans-serif;font-style:normal;-webkit-text-stroke:0.5px #3e3a39">棋牌室</div><div class="t" style="left:880.2px;top:2323.3px;font-size:36.34px;line-height:36.34px;letter-spacing:0.00px;color:#fff;font-weight:700;font-family:'Liberation Sans',sans-serif;font-style:normal;transform-origin:2.2px 0;transform:scaleX(1.007)">18.4%</div><div class="t" style="left:206.0px;top:2421.4px;font-size:40.00px;line-height:40.00px;letter-spacing:0.00px;color:#3e3a39;font-weight:700;font-family:'Liberation Sans',sans-serif;font-style:normal;-webkit-text-stroke:0.5px #3e3a39">送礼</div><div class="t" style="left:881.8px;top:2420.6px;font-size:36.34px;line-height:36.34px;letter-spacing:0.00px;color:#fff;font-weight:700;font-family:'Liberation Sans',sans-serif;font-style:normal;transform-origin:2.2px 0;transform:scaleX(0.975)">17.8%</div><div class="t" style="left:205.6px;top:2518.7px;font-size:40.00px;line-height:40.00px;letter-spacing:0.00px;color:#3e3a39;font-weight:700;font-family:'Liberation Sans',sans-serif;font-style:normal;-webkit-text-stroke:0.5px #3e3a39">其他</div><div class="t" style="left:888.7px;top:2518.0px;font-size:36.34px;line-height:36.34px;letter-spacing:0.00px;color:#fff;font-weight:700;font-family:'Liberation Sans',sans-serif;font-style:normal;transform-origin:2.2px 0;transform:scaleX(0.857)">11.1%</div><div class="t" style="left:43.8px;top:2674.3px;font-size:26.65px;line-height:26.65px;letter-spacing:1.30px;color:#3e3a39;font-weight:700;font-family:'Liberation Sans',sans-serif;font-style:normal">数据来源</div><div class="t" style="left:42.9px;top:2716.9px;font-size:27.11px;line-height:27.11px;letter-spacing:0.85px;color:#3e3a39;font-weight:400;font-family:'Liberation Sans',sans-serif;font-style:normal">艾媒咨询《2024中国大学生消费行为调查研究报告》</div><div class="t" style="left:850.5px;top:88.9px;font-size:27.73px;line-height:27.73px;letter-spacing:1.33px;color:#111;font-weight:700;font-family:'Liberation Sans',sans-serif;font-style:italic">腾讯新闻</div><div class="t" style="left:977.4px;top:93.7px;font-size:19.38px;line-height:19.38px;letter-spacing:0.21px;color:#fff;font-weight:700;font-family:'Liberation Sans',sans-serif;font-style:italic">出品</div><div class="t" style="left:855.0px;top:146.5px;font-size:24.01px;line-height:24.01px;letter-spacing:1.63px;color:#2a2a2a;font-weight:400;font-family:'Liberation Serif',serif;font-style:normal">谷雨数据</div>
<div class="g" style="left:47px;top:10.2px">GUYUDATA</div><div class="g" style="left:47.5px;top:2823.8px">GUYUDATA</div><div class="dot" style="left:212px;top:12px"></div><div class="dot" style="left:213px;top:2826px"></div><div class="g" style="left:248px;top:10.2px">GUYUDATA</div><div class="g" style="left:248.5px;top:2823.8px">GUYUDATA</div><div class="dot" style="left:413px;top:12px"></div><div class="dot" style="left:414px;top:2826px"></div><div class="g" style="left:449px;top:10.2px">GUYUDATA</div><div class="g" style="left:449.5px;top:2823.8px">GUYUDATA</div><div class="dot" style="left:614px;top:12px"></div><div class="dot" style="left:615px;top:2826px"></div><div class="g" style="left:650px;top:10.2px">GUYUDATA</div><div class="g" style="left:650.5px;top:2823.8px">GUYUDATA</div><div class="dot" style="left:815px;top:12px"></div><div class="dot" style="left:816px;top:2826px"></div><div class="g" style="left:851px;top:10.2px">GUYUDATA</div><div class="g" style="left:851.5px;top:2823.8px">GUYUDATA</div>
</body></html>
